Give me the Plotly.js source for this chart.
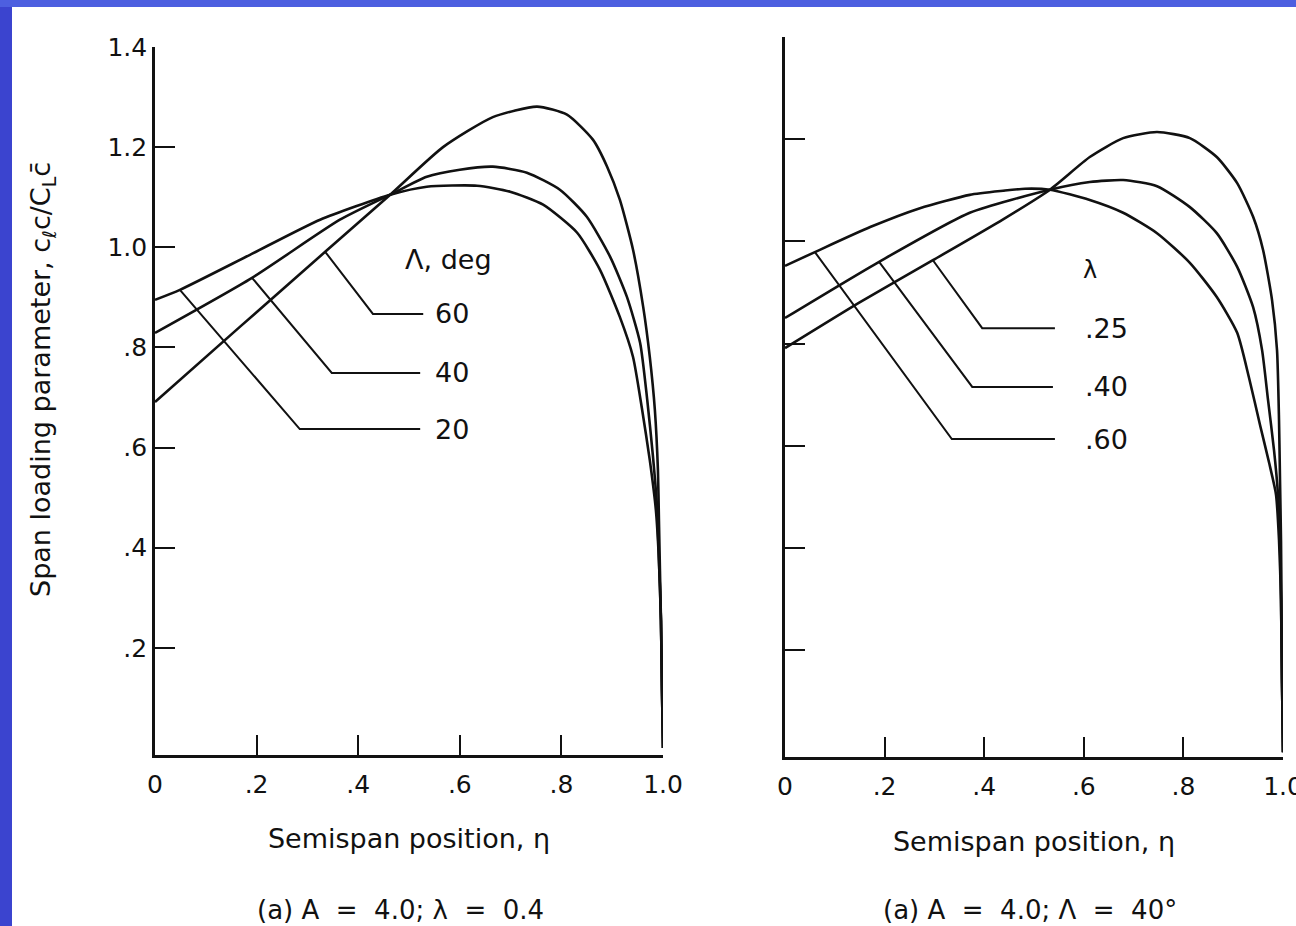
<!DOCTYPE html>
<html>
<head>
<meta charset="utf-8">
<script src="https://cdn.plot.ly/plotly-3.0.1.min.js"></script>
<style>html,body{margin:0;padding:0;background:#fff;}#chart{width:1296px;height:926px;}</style>
</head>
<body>
<div id="chart"></div>
<script>
// ---------- Data: left panel (A = 4.0; taper 0.4), sweep angle series ----------
const etaSweep20 = [0, 0.049, 0.187, 0.325, 0.463, 0.535, 0.634, 0.699, 0.764, 0.831, 0.876, 0.915, 0.941, 0.959, 0.974, 0.986, 0.992, 0.996, 0.998, 1.0];
const loadSweep20 = [0.895, 0.915, 0.985, 1.055, 1.105, 1.121, 1.123, 1.111, 1.085, 1.029, 0.955, 0.861, 0.781, 0.675, 0.575, 0.475, 0.375, 0.255, 0.116, 0.0];
const etaSweep40 = [0, 0.191, 0.364, 0.463, 0.535, 0.600, 0.665, 0.732, 0.797, 0.850, 0.896, 0.929, 0.955, 0.969, 0.980, 0.988, 0.992, 0.996, 0.998, 1.0];
const loadSweep40 = [0.829, 0.939, 1.055, 1.105, 1.141, 1.155, 1.161, 1.149, 1.115, 1.061, 0.981, 0.901, 0.809, 0.695, 0.585, 0.485, 0.375, 0.255, 0.116, 0.0];
const etaSweep60 = [0, 0.167, 0.335, 0.463, 0.567, 0.665, 0.752, 0.811, 0.862, 0.890, 0.915, 0.941, 0.961, 0.974, 0.984, 0.990, 0.992, 0.994, 0.996, 0.998, 1.0];
const loadSweep60 = [0.691, 0.841, 0.991, 1.105, 1.200, 1.260, 1.281, 1.265, 1.215, 1.161, 1.095, 0.995, 0.881, 0.781, 0.675, 0.555, 0.455, 0.355, 0.255, 0.116, 0.0];

// ---------- Data: right panel (A = 4.0; sweep 40 deg), taper ratio series ----------
const etaTaper60 = [0, 0.060, 0.171, 0.271, 0.371, 0.438, 0.482, 0.532, 0.612, 0.679, 0.747, 0.813, 0.867, 0.908, 0.932, 0.954, 0.972, 0.986, 0.992, 0.996, 0.998, 1.0];
const loadTaper60 = [0.952, 0.979, 1.028, 1.065, 1.091, 1.099, 1.103, 1.101, 1.081, 1.056, 1.016, 0.958, 0.891, 0.821, 0.732, 0.640, 0.567, 0.504, 0.415, 0.298, 0.141, 0.0];
const etaTaper40 = [0, 0.189, 0.371, 0.532, 0.612, 0.679, 0.747, 0.813, 0.867, 0.908, 0.940, 0.958, 0.970, 0.982, 0.990, 0.994, 0.996, 0.998, 1.0];
const loadTaper40 = [0.850, 0.960, 1.056, 1.101, 1.116, 1.120, 1.108, 1.067, 1.016, 0.950, 0.871, 0.787, 0.689, 0.591, 0.504, 0.415, 0.298, 0.141, 0.0];
const etaTaper25 = [0, 0.149, 0.297, 0.438, 0.532, 0.612, 0.679, 0.747, 0.813, 0.867, 0.908, 0.940, 0.960, 0.978, 0.988, 0.992, 0.994, 0.996, 0.997, 0.998, 1.0];
const loadTaper25 = [0.791, 0.880, 0.963, 1.043, 1.101, 1.165, 1.202, 1.214, 1.202, 1.165, 1.114, 1.048, 0.983, 0.885, 0.787, 0.650, 0.533, 0.415, 0.298, 0.141, 0.0];

// ---------- Tick labels ----------
const xTickVals = [0, 0.2, 0.4, 0.6, 0.8, 1.0];
const xTickText = ["0", ".2", ".4", ".6", ".8", "1.0"];
const yTickVals = [0.2, 0.4, 0.6, 0.8, 1.0, 1.2, 1.4];
const yTickText = [".2", ".4", ".6", ".8", "1.0", "1.2", "1.4"];

// ---------- Curve labels ----------
const sweepLabels = ["20", "40", "60"];
const taperLabels = [".60", ".40", ".25"];

// ---------- Label leader lines (annotation geometry, axis units) ----------
const leaderSweep = [
  {x: [0.049, 0.285, 0.522], y: [0.915, 0.637, 0.637]},
  {x: [0.191, 0.348, 0.522], y: [0.939, 0.749, 0.749]},
  {x: [0.335, 0.429, 0.528], y: [0.991, 0.867, 0.867]}
];
const leaderTaper = [
  {x: [0.060, 0.335, 0.542], y: [0.979, 0.613, 0.613]},
  {x: [0.189, 0.376, 0.538], y: [0.960, 0.715, 0.715]},
  {x: [0.297, 0.396, 0.542], y: [0.963, 0.830, 0.830]}
];

const FONT = "DejaVu Sans, Verdana, sans-serif";
const INK = "#111";
const W = 1296, H = 926;

const curveStyle = {color: INK, width: 2.6, shape: "spline", smoothing: 0.6};
const leaderStyle = {color: INK, width: 2};

const traces = [];
[[etaSweep20, loadSweep20], [etaSweep40, loadSweep40], [etaSweep60, loadSweep60]].forEach((s, i) => {
  traces.push({x: s[0], y: s[1], xaxis: "x", yaxis: "y", mode: "lines", line: curveStyle,
               name: "Λ = " + sweepLabels[i] + "°", hoverinfo: "x+y+name", showlegend: false});
});
[[etaTaper60, loadTaper60], [etaTaper40, loadTaper40], [etaTaper25, loadTaper25]].forEach((s, i) => {
  traces.push({x: s[0], y: s[1], xaxis: "x2", yaxis: "y2", mode: "lines", line: curveStyle,
               name: "λ = " + taperLabels[i], hoverinfo: "x+y+name", showlegend: false});
});
leaderSweep.forEach(l => traces.push({x: l.x, y: l.y, xaxis: "x", yaxis: "y", mode: "lines",
  line: leaderStyle, hoverinfo: "skip", showlegend: false}));
leaderTaper.forEach(l => traces.push({x: l.x, y: l.y, xaxis: "x2", yaxis: "y2", mode: "lines",
  line: leaderStyle, hoverinfo: "skip", showlegend: false}));

const annotations = [];
sweepLabels.forEach((t, i) => annotations.push({
  xref: "x", yref: "y", x: 0.547, y: leaderSweep[i].y[2], text: t, showarrow: false,
  xanchor: "left", yanchor: "middle", font: {family: FONT, size: 27, color: INK}}));
taperLabels.forEach((t, i) => annotations.push({
  xref: "x2", yref: "y2", x: 0.598, y: leaderTaper[i].y[2], text: t, showarrow: false,
  xanchor: "left", yanchor: "middle", font: {family: FONT, size: 27, color: INK}}));
annotations.push({xref: "x", yref: "y", x: 0.488, y: 0.975, text: "Λ, deg", showarrow: false,
  xanchor: "left", yanchor: "middle", font: {family: FONT, size: 27, color: INK}});
annotations.push({xref: "x2", yref: "y2", x: 0.612, y: 0.944, text: "λ", showarrow: false,
  xanchor: "center", yanchor: "middle", font: {family: FONT, size: 24, color: INK}});
annotations.push({xref: "paper", yref: "paper", x: 42 / W, y: 1 - 380 / H, textangle: -90,
  text: "Span loading parameter, c<sub>ℓ</sub>c/C<sub>L</sub>c̄", showarrow: false,
  xanchor: "center", yanchor: "middle", font: {family: FONT, size: 27, color: INK}});
annotations.push({xref: "paper", yref: "paper", x: 400 / W, y: 1 - 910 / H, text: "(a) A\u00a0 =\u00a0 4.0; λ\u00a0 =\u00a0 0.4",
  showarrow: false, xanchor: "center", yanchor: "middle", font: {family: FONT, size: 26, color: INK}});
annotations.push({xref: "paper", yref: "paper", x: 1030 / W, y: 1 - 910 / H, text: "(a) A\u00a0 =\u00a0 4.0; Λ\u00a0 =\u00a0 40°",
  showarrow: false, xanchor: "center", yanchor: "middle", font: {family: FONT, size: 26, color: INK}});

const axisCommon = {
  showgrid: false, zeroline: false, showline: true, linecolor: INK, linewidth: 2.8,
  ticks: "inside", ticklen: 20, tickwidth: 2, tickcolor: INK, ticklabeloverflow: "allow",
  tickfont: {family: FONT, size: 25, color: INK}, fixedrange: true
};

const layout = {
  width: W, height: H,
  margin: {l: 0, r: 0, t: 0, b: 0},
  paper_bgcolor: "#ffffff", plot_bgcolor: "rgba(0,0,0,0)",
  showlegend: false,
  xaxis: Object.assign({}, axisCommon, {
    domain: [155 / W, 663 / W], range: [0, 1], anchor: "y",
    tickvals: xTickVals, ticktext: xTickText, ticklabelstandoff: 5,
    title: {text: "Semispan position, η", font: {family: FONT, size: 27, color: INK}, standoff: 32}
  }),
  yaxis: Object.assign({}, axisCommon, {
    domain: [1 - 755 / H, 1 - 47 / H], range: [-0.014, 1.4], anchor: "x",
    tickvals: yTickVals, ticktext: yTickText, ticklabelstandoff: 0
  }),
  xaxis2: Object.assign({}, axisCommon, {
    domain: [785 / W, 1283 / W], range: [0, 1], anchor: "y2",
    tickvals: xTickVals, ticktext: xTickText, ticklabelstandoff: 5,
    title: {text: "Semispan position, η", font: {family: FONT, size: 27, color: INK}, standoff: 33}
  }),
  yaxis2: Object.assign({}, axisCommon, {
    domain: [1 - 757 / H, 1 - 37 / H], range: [-0.0094, 1.4], anchor: "x2",
    tickvals: yTickVals, showticklabels: false
  }),
  annotations: annotations,
  shapes: [
    {type: "rect", xref: "paper", yref: "paper", x0: 0, x1: 12 / W, y0: 0, y1: 1,
     fillcolor: "#3b44cf", line: {width: 0}, layer: "below"},
    {type: "rect", xref: "paper", yref: "paper", x0: 0, x1: 1, y0: 1 - 7 / H, y1: 1,
     fillcolor: "#4d5fe0", line: {width: 0}, layer: "below"}
  ]
};

Plotly.newPlot("chart", traces, layout, {displayModeBar: false, staticPlot: true});
</script>
</body>
</html>
